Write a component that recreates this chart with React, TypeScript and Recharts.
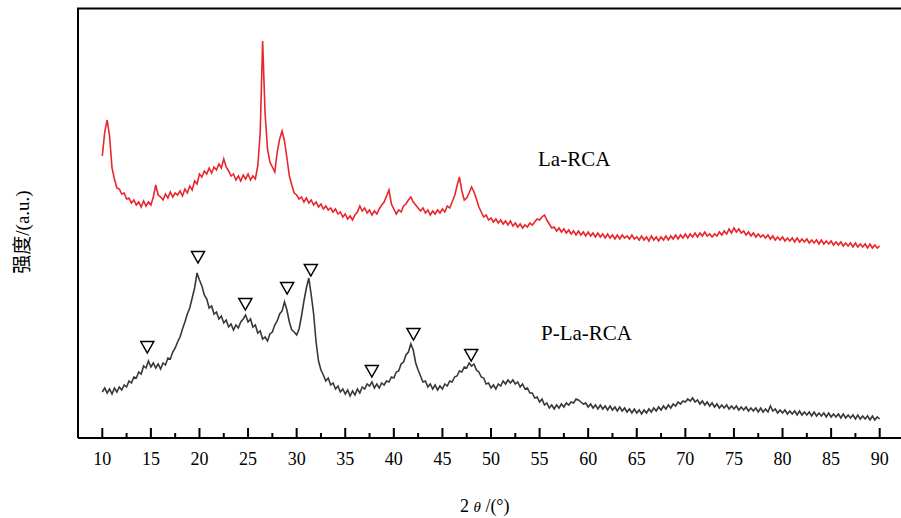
import { ComposedChart, Line, Scatter, XAxis, YAxis } from 'recharts';

// 2θ sampling grid, 10°–90° in 0.25° steps
const ANGLES = Array.from({ length: 321 }, (_, i) => 10 + i * 0.25);

const LA_RCA = [
  282, 306, 318, 302, 270, 259, 250, 249, 244, 245, 239, 240, 235, 238, 233, 236, 231, 237, 232, 236,
  233, 241, 253, 243, 241, 238, 244, 240, 246, 241, 245, 243, 247, 242, 249, 245, 252, 248, 257, 254,
  264, 261, 267, 264, 270, 265, 271, 268, 274, 270, 279, 271, 267, 262, 264, 258, 262, 257, 263, 259,
  264, 258, 262, 259, 272, 305, 397, 325, 289, 276, 271, 266, 286, 299, 307, 297, 280, 262, 253, 245,
  243, 239, 241, 236, 240, 235, 238, 233, 236, 231, 234, 229, 232, 228, 230, 226, 229, 224, 226, 221,
  224, 219, 222, 218, 223, 226, 232, 227, 230, 225, 228, 223, 227, 224, 229, 233, 236, 242, 248, 234,
  229, 224, 228, 226, 232, 234, 238, 241, 236, 233, 230, 227, 230, 225, 228, 223, 227, 224, 228, 225,
  229, 226, 232, 230, 236, 242, 252, 261, 247, 238, 240, 245, 251, 246, 239, 231, 226, 221, 223, 218,
  220, 216, 219, 215, 218, 214, 217, 213, 217, 212, 215, 211, 214, 210, 213, 211, 215, 213, 216, 219,
  218, 221, 223, 218, 214, 210, 211, 207, 210, 206, 209, 205, 208, 204, 207, 203, 207, 203, 206, 202,
  206, 202, 205, 201, 205, 201, 204, 200, 204, 200, 203, 199, 203, 199, 203, 200, 202, 199, 203, 199,
  201, 198, 202, 198, 201, 197, 202, 198, 201, 197, 201, 198, 202, 198, 202, 199, 203, 199, 203, 200,
  204, 200, 204, 201, 205, 201, 205, 202, 206, 202, 204, 201, 204, 202, 206, 203, 207, 204, 209, 205,
  210, 206, 209, 205, 207, 203, 206, 202, 205, 201, 204, 201, 203, 200, 203, 199, 202, 198, 201, 198,
  201, 197, 200, 197, 200, 196, 200, 196, 199, 196, 199, 195, 198, 195, 198, 194, 198, 194, 197, 194,
  197, 193, 196, 193, 196, 192, 195, 192, 195, 191, 195, 191, 194, 191, 194, 190, 194, 190, 193, 190,
  192,
];

const P_LA_RCA = [
  46, 50, 45, 49, 44, 50, 46, 51, 48, 53, 51, 57, 55, 61, 60, 66, 64, 72, 70, 77,
  71, 75, 70, 74, 69, 75, 73, 80, 79, 86, 90, 96, 101, 109, 116, 124, 130, 140, 150, 165,
  158, 152, 143, 139, 130, 132, 124, 126, 119, 122, 115, 118, 111, 114, 108, 113, 110, 116, 119, 123,
  116, 119, 111, 113, 105, 107, 99, 101, 97, 104, 106, 113, 117, 124, 127, 136, 128, 116, 108, 106,
  103, 109, 122, 137, 150, 160, 143, 124, 96, 77, 68, 63, 57, 60, 53, 55, 49, 52, 46, 49,
  44, 48, 42, 47, 43, 49, 45, 51, 49, 54, 52, 56, 50, 54, 50, 55, 53, 57, 56, 61,
  60, 66, 67, 74, 76, 83, 86, 94, 88, 75, 68, 62, 56, 57, 51, 54, 49, 53, 48, 52,
  49, 54, 52, 57, 56, 61, 62, 67, 66, 71, 70, 75, 72, 74, 68, 66, 61, 60, 54, 55,
  50, 53, 49, 54, 52, 57, 54, 58, 55, 58, 54, 56, 51, 54, 49, 50, 45, 45, 40, 41,
  36, 39, 33, 35, 30, 33, 29, 33, 30, 34, 31, 35, 33, 36, 35, 39, 38, 36, 34, 35,
  31, 34, 30, 33, 29, 33, 29, 32, 28, 32, 28, 31, 27, 31, 27, 30, 26, 29, 25, 29,
  25, 28, 24, 28, 25, 29, 26, 30, 27, 31, 28, 32, 29, 33, 30, 34, 32, 36, 34, 37,
  36, 39, 37, 40, 36, 38, 34, 37, 33, 36, 32, 35, 31, 34, 30, 33, 30, 33, 29, 32,
  29, 32, 28, 31, 28, 31, 27, 30, 27, 30, 26, 30, 26, 29, 26, 32, 27, 29, 25, 28,
  25, 28, 24, 27, 24, 27, 23, 27, 23, 26, 23, 26, 22, 26, 22, 25, 22, 25, 21, 25,
  21, 24, 21, 24, 20, 24, 20, 23, 20, 23, 19, 23, 19, 22, 19, 22, 18, 22, 18, 21,
  19,
];

// ▽ peak markers over the P-La-RCA pattern
const MARK_ANGLES = [14.63, 19.85, 24.72, 29.02, 31.46, 37.74, 42.02, 47.96];
const MARK_HEIGHTS = [91, 181, 134, 150, 168, 67, 104, 83];

const MAJOR_TICKS = [10, 15, 20, 25, 30, 35, 40, 45, 50, 55, 60, 65, 70, 75, 80, 85, 90];
const MINOR_TICKS = [12.5, 17.5, 22.5, 27.5, 32.5, 37.5, 42.5, 47.5, 52.5, 57.5, 62.5, 67.5, 72.5, 77.5, 82.5, 87.5];

const rows = ANGLES.map((angle, i) => ({ angle, la: LA_RCA[i], pla: P_LA_RCA[i] }));
const marks = MARK_ANGLES.map((angle, i) => ({ angle, h: MARK_HEIGHTS[i] }));
const allTicks = [...MAJOR_TICKS, ...MINOR_TICKS].sort((a, b) => a - b);

const SERIF = '"Liberation Serif", "Times New Roman", "Noto Sans CJK SC", serif';
const AXIS_Y = 438;

const InwardTick = (props: any) => {
  const { x, payload } = props;
  const major = MAJOR_TICKS.includes(payload.value);
  return (
    <g>
      <line x1={x} x2={x} y1={AXIS_Y} y2={AXIS_Y - (major ? 10 : 5)} stroke="#000" strokeWidth={2} />
      {major && (
        <text x={x} y={AXIS_Y + 27} textAnchor="middle" fontFamily={SERIF} fontSize={18} fill="#000">
          {payload.value}
        </text>
      )}
    </g>
  );
};

const Triangle = (props: any) => {
  const { cx, cy } = props;
  return (
    <path
      d={`M${cx - 6.5},${cy - 5.5} L${cx + 6.5},${cy - 5.5} L${cx},${cy + 6} Z`}
      fill="#fff"
      stroke="#000"
      strokeWidth={1.5}
    />
  );
};

const App = () => {
  return (
    <div style={{ position: 'absolute', left: 0, top: 0, width: 901, height: 518, overflow: 'hidden', background: '#fff' }}>
      <ComposedChart width={904} height={518} data={rows} margin={{ top: 8, right: 0, bottom: 0, left: 0 }}>
        <XAxis
          dataKey="angle"
          type="number"
          domain={[7.5, 92.5]}
          ticks={allTicks}
          interval={0}
          height={80}
          tickLine={false}
          tick={<InwardTick />}
          axisLine={{ stroke: '#000', strokeWidth: 2 }}
        />
        <YAxis
          type="number"
          domain={[0, 430]}
          width={78}
          tick={false}
          tickLine={false}
          axisLine={{ stroke: '#000', strokeWidth: 2 }}
        />
        <Line dataKey="la" stroke="#e8262b" strokeWidth={1.6} dot={false} isAnimationActive={false} />
        <Line dataKey="pla" stroke="#333a3a" strokeWidth={1.6} dot={false} isAnimationActive={false} />
        <Scatter data={marks} dataKey="h" shape={<Triangle />} isAnimationActive={false} />
      </ComposedChart>
      <svg width={901} height={518} style={{ position: 'absolute', left: 0, top: 0, pointerEvents: 'none' }}>
        {/* top edge of the frame */}
        <rect x={77} y={7.5} width={824} height={2} fill="#000" />
        <text x={538} y={166} fontFamily={SERIF} fontSize={21} fill="#000">La-RCA</text>
        <text x={541} y={340} fontFamily={SERIF} fontSize={21} fill="#000">P-La-RCA</text>
        <text x={460} y={512} fontFamily={SERIF} fontSize={18} fill="#000">
          2 <tspan fontStyle="italic" fontSize={15}>θ</tspan> /(°)
        </text>
        <text
          x={22}
          y={232}
          transform="rotate(-90 22 232)"
          textAnchor="middle"
          dominantBaseline="central"
          fontFamily={SERIF}
          fontSize={19}
          fill="#000"
        >
          强度/(a.u.)
        </text>
      </svg>
    </div>
  );
};

export default App;
